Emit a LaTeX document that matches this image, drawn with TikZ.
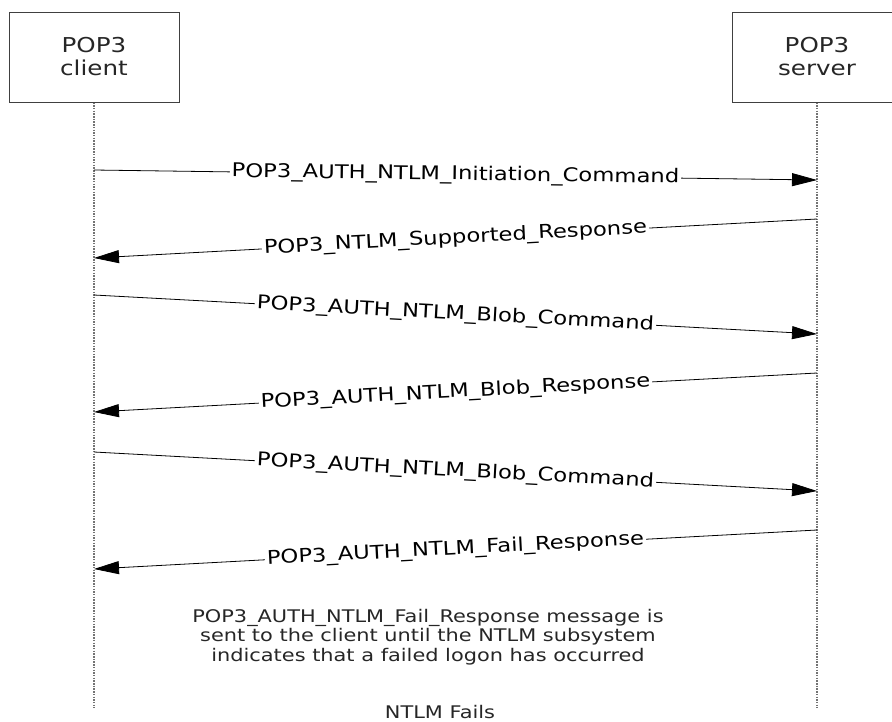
\documentclass[tikz,border=0pt]{standalone}
\usepackage{fontspec}
\setmainfont{DejaVu Sans}[FakeStretch=1.2]
\usetikzlibrary{arrows.meta}
\begin{document}
\begin{tikzpicture}[x=1pt,y=-1pt,
    actor/.style={draw=black!75,line width=1pt,minimum width=170pt,minimum height=90pt,
      align=center,text=black!85,font=\fontsize{20.5}{23}\selectfont},
    life/.style={draw=black!55,line width=1.3pt,dash pattern=on 1.5pt off 1.2pt},
    msg/.style={-{Triangle[length=25pt,width=13pt]},line width=0.8pt},
    msglbl/.style={fill=white,inner sep=2pt,sloped,font=\fontsize{18.9}{21}\selectfont},
    note/.style={align=center,text=black!85,font=\fontsize{17.4}{19.5}\selectfont}]
    \clip (0,0) rectangle (892,721);
    \node[actor] (client) at (94,57) {POP3\\client};
    \node[actor] (server) at (817,57) {POP3\\server};
    \coordinate (cend) at (94,708);
    \coordinate (send) at (817,708);
    \draw[life] (client) -- (cend);
    \draw[life] (server) -- (send);
    % message end points on the lifelines
    \foreach \i/\cy/\sy in {1/170/180,2/258/219,3/295/334,4/412/373,5/452/491,6/569/530}
      {\coordinate (c\i) at (94,\cy); \coordinate (s\i) at (817,\sy);}
    \draw[msg] (c1) -- node[msglbl]{POP3\_AUTH\_NTLM\_Initiation\_Command} (s1);
    \draw[msg] (s2) -- node[msglbl]{POP3\_NTLM\_Supported\_Response} (c2);
    \draw[msg] (c3) -- node[msglbl]{POP3\_AUTH\_NTLM\_Blob\_Command} (s3);
    \draw[msg] (s4) -- node[msglbl]{POP3\_AUTH\_NTLM\_Blob\_Response} (c4);
    \draw[msg] (c5) -- node[msglbl]{POP3\_AUTH\_NTLM\_Blob\_Command} (s5);
    \draw[msg] (s6) -- node[msglbl]{POP3\_AUTH\_NTLM\_Fail\_Response} (c6);
    \node[note] (loop) at (428,637) {POP3\_AUTH\_NTLM\_Fail\_Response message is\\
      sent to the client until the NTLM subsystem\\indicates that a failed logon has occurred};
    \node[note] (fails) at (440,712) {NTLM Fails};
\end{tikzpicture}
\end{document}
